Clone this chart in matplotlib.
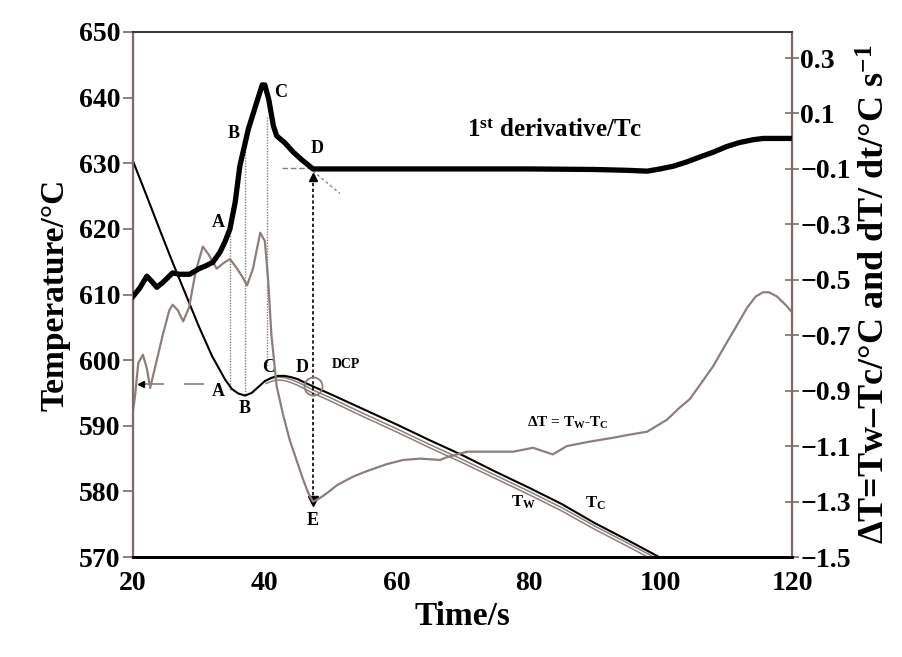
import matplotlib
matplotlib.use("Agg")
import matplotlib.pyplot as plt

plt.rcParams['font.family'] = ['Liberation Serif', 'DejaVu Serif']
plt.rcParams['font.weight'] = 'bold'
plt.rcParams['mathtext.fontset'] = 'custom'
plt.rcParams['mathtext.rm'] = 'Liberation Serif:bold'
plt.rcParams['mathtext.bf'] = 'Liberation Serif:bold'
plt.rcParams['mathtext.it'] = 'Liberation Serif:bold'
plt.rcParams['mathtext.default'] = 'bf'

# ---- data ----
tc_time = [20, 22, 24, 26, 28, 30, 32, 33, 34, 35, 36, 37, 38, 39, 40, 41, 42, 43, 44,
           45, 46, 47.3, 50, 55, 60, 65, 70, 75, 80, 85, 90, 95, 100, 102]
tc_temp = [630.3, 625.2, 620.0, 614.9, 610.0, 605.1, 600.6, 598.8, 597.0, 595.6, 594.9,
           594.6, 595.0, 595.9, 596.8, 597.3, 597.6, 597.6, 597.4, 597.1, 596.6, 596.0,
           594.8, 592.5, 590.2, 587.8, 585.5, 583.0, 580.6, 578.1, 575.2, 572.6, 569.9, 569.0]

tw_time = [40, 41, 42, 43, 44, 45, 46, 47.3, 50, 55, 60, 65, 70, 75, 80, 85, 90, 95, 98, 100]
tw_temp = [596.6, 597.0, 597.2, 597.1, 596.8, 596.4, 595.9, 595.2, 594.0, 591.6, 589.3,
           586.9, 584.6, 582.2, 579.8, 577.3, 574.5, 571.9, 570.3, 569.2]

dt_time = [20, 20.3, 20.8, 21.5, 22.1, 22.6, 23.5, 24.5, 25.5, 26, 26.8, 27.6, 28.5, 29.5,
           30.6, 31.5, 32.7, 33.7, 34.7, 35.8, 36.6, 37.3, 38.2, 39.3, 40.0, 40.5, 41.0,
           41.8, 42.8, 43.8, 44.8, 45.8, 46.6, 47.3, 48.2, 49.4, 51, 53.4, 55.5, 58.5, 61,
           63.6, 66.6, 67.6, 70.7, 74, 77.7, 80.7, 83.7, 85.8, 89, 92.8, 95, 98, 101, 103,
           104.5, 106, 108, 110, 111, 113.2, 114.5, 115.6, 116.5, 117.7, 119, 120]
dt_value = [-0.97, -0.92, -0.80, -0.77, -0.82, -0.89, -0.80, -0.70, -0.61, -0.59, -0.61,
            -0.65, -0.60, -0.47, -0.38, -0.41, -0.46, -0.44, -0.425, -0.46, -0.49, -0.52,
            -0.46, -0.33, -0.36, -0.50, -0.70, -0.885, -0.99, -1.08, -1.15, -1.22, -1.27,
            -1.30, -1.29, -1.27, -1.24, -1.21, -1.19, -1.165, -1.15, -1.145, -1.15, -1.14,
            -1.12, -1.12, -1.12, -1.106, -1.13, -1.10, -1.085, -1.07, -1.06, -1.048, -1.005,
            -0.96, -0.93, -0.88, -0.813, -0.73, -0.69, -0.60, -0.56, -0.545, -0.545, -0.56,
            -0.59, -0.617]

der_time = [20, 21, 22.1, 23, 23.6, 24.5, 26, 27, 28.6, 30, 31, 32.1, 33.2, 34, 34.7, 35.5,
            36.2, 37.5, 38.5, 39.6, 40, 40.6, 41.3, 41.8, 43, 44.3, 45.5, 47.3, 50, 60, 70,
            80, 90, 95, 98, 100, 102, 104, 106, 108, 110, 112, 114, 115.6, 118, 120]
der_value = [-0.56, -0.53, -0.487, -0.51, -0.527, -0.51, -0.475, -0.48, -0.48, -0.46, -0.45,
             -0.437, -0.40, -0.36, -0.317, -0.22, -0.09, 0.044, 0.12, 0.203, 0.203, 0.15,
             0.055, 0.019, -0.005, -0.039, -0.065, -0.10, -0.10, -0.10, -0.10, -0.10, -0.102,
             -0.105, -0.108, -0.10, -0.09, -0.075, -0.057, -0.04, -0.02, -0.005, 0.005, 0.01,
             0.01, 0.01]

left_ticks = [570, 580, 590, 600, 610, 620, 630, 640, 650]
right_ticks = [-1.5, -1.3, -1.1, -0.9, -0.7, -0.5, -0.3, -0.1, 0.1, 0.3]
x_ticks = [20, 40, 60, 80, 100, 120]

GRAY = '#8c7f7b'
SPINE = '#7a6c68'

fig = plt.figure(figsize=(9.02, 6.57), dpi=100)
ax = fig.add_axes([0.1475, 0.1522, 0.7306, 0.7991])
ax2 = ax.twinx()

ax.set_xlim(20, 120)
ax.set_ylim(570, 650)
ax2.set_ylim(-1.5, 0.394)

# curves
ax2.plot(dt_time, dt_value, color=GRAY, lw=1.6, zorder=2)
ax.plot(tw_time, tw_temp, color=GRAY, lw=3.2, zorder=3, solid_capstyle='butt')
ax.plot(tw_time, tw_temp, color='white', lw=1.0, zorder=3.1)
ax.plot(tc_time, tc_temp, color='black', lw=1.5, zorder=4)
ax2.plot(der_time, der_value, color='black', lw=3.8, zorder=5)

# annotation guide lines (left-axis coordinates)
ax.plot([34.7, 34.7], [619.8, 595.5], color=GRAY, lw=1.0, ls=(0, (1, 1)), zorder=1)
ax.plot([37.0, 37.0], [634.7, 594.6], color=GRAY, lw=1.0, ls=(0, (1, 1)), zorder=1)
ax.plot([40.4, 40.4], [637.0, 599.0], color=GRAY, lw=1.0, ls=(0, (1, 1)), zorder=1)
ax.plot([47.3, 47.3], [627.9, 579.0], color='black', lw=1.2, ls=(0, (2, 1.5)), zorder=6)
ax.plot([47.3], [627.9], marker='^', color='black', ms=6, zorder=7)
ax.plot([47.3], [578.6], marker='v', color='black', ms=7, zorder=7)
ax.plot([21.6, 33.0], [596.4, 596.4], color=GRAY, lw=1.2, ls=(0, (12, 12)), zorder=1)
ax.plot([21.2], [596.4], marker='<', color='black', ms=5, zorder=7)
ax.plot([42.6, 47.3], [629.2, 629.2], color=GRAY, lw=1.0, ls=(0, (4, 2)), zorder=1)
ax.plot([47.3, 51.4], [628.8, 625.4], color=GRAY, lw=1.0, ls=(0, (2, 2)), zorder=1)
ax.plot([47.3], [596.0], marker='o', mfc='none', mec=GRAY, mew=1.3, ms=13, zorder=7)

# point labels
lab = dict(fontsize=13, fontweight='bold', ha='center', va='center', zorder=8)
ax.text(32.9, 621.0, 'A', **lab)
ax.text(35.2, 634.6, 'B', **lab)
ax.text(42.4, 640.8, 'C', **lab)
ax.text(47.9, 632.3, 'D', **lab)
ax.text(32.9, 595.2, 'A', **lab)
ax.text(37.0, 592.6, 'B', **lab)
ax.text(40.5, 598.9, 'C', **lab)
ax.text(45.6, 598.9, 'D', **lab)
ax.text(52.3, 599.3, 'DCP', fontsize=10, fontweight='bold', ha='center', va='center')
ax.text(47.2, 575.6, 'E', **lab)
ax.text(86.0, 590.4, r'ΔT = T$_{W}$-T$_{C}$', fontsize=11, fontweight='bold',
        ha='center', va='center')
ax.text(79.2, 578.3, r'T$_{W}$', fontsize=12, fontweight='bold', ha='center', va='center')
ax.text(90.1, 578.2, r'T$_{C}$', fontsize=12, fontweight='bold', ha='center', va='center')
ax.text(84.0, 635.0, r'1$^{st}$ derivative/Tc', fontsize=18, fontweight='bold',
        ha='center', va='center')

# axes styling
ax.set_xticks(x_ticks)
ax.set_yticks(left_ticks)
ax2.set_yticks(right_ticks)
ax2.set_yticklabels([('%.1f' % v).replace('-', '\u2212') for v in right_ticks])
ax.tick_params(axis='x', length=0, pad=10, labelsize=20)
ax.tick_params(axis='y', direction='out', length=7, width=1.2, color=SPINE, pad=2, labelsize=20)
ax2.tick_params(axis='y', direction='inout', length=10, width=1.2, color=SPINE, pad=1, labelsize=20)
for a in (ax, ax2):
    for lbl in a.get_xticklabels() + a.get_yticklabels():
        lbl.set_fontweight('bold')

ax.spines['left'].set_color(SPINE)
ax.spines['left'].set_linewidth(1.6)
ax2.spines['right'].set_color(SPINE)
ax2.spines['right'].set_linewidth(1.6)
for a in (ax, ax2):
    a.spines['top'].set_color('#333333')
    a.spines['top'].set_linewidth(1.2)
    a.spines['bottom'].set_color('black')
    a.spines['bottom'].set_linewidth(2.0)
    a.spines['left'].set_color(SPINE)
    a.spines['right'].set_color(SPINE)

ax.set_xlabel('Time/s', fontsize=24, fontweight='bold', labelpad=4)
ax.set_ylabel('Temperature/°C', fontsize=24, fontweight='bold', labelpad=6)
ax2.set_ylabel(r'ΔT=Tw–Tc/°C and dT/ dt/°C s$^{-1}$', fontsize=26, fontweight='bold',
               labelpad=6)

fig.savefig('out.png', dpi=100)
